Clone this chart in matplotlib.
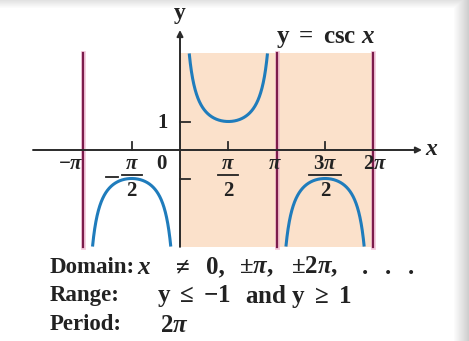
import numpy as np
import matplotlib.pyplot as plt
from matplotlib.patches import Rectangle

plt.rcParams['font.family'] = ['Liberation Serif', 'DejaVu Serif']
plt.rcParams['font.weight'] = 'bold'
plt.rcParams['mathtext.fontset'] = 'custom'
plt.rcParams['mathtext.rm'] = 'Liberation Serif:bold'
plt.rcParams['mathtext.it'] = 'Liberation Serif:italic:bold'
plt.rcParams['mathtext.bf'] = 'Liberation Serif:bold'

PI = np.pi

# branches of y = csc x between asymptotes
branches = [(-PI, 0.0), (0.0, PI), (PI, 2 * PI)]
asymptotes = [-PI, PI, 2 * PI]
ymax = 3.4

# tick marks
xticks_up = [-PI / 2, PI / 2, 3 * PI / 2]
yticks = [1, -1]

# x tick labels
xlabels_plain = [(-PI, r'$-\pi$', -12), (PI, r'$\pi$', -2), (2 * PI, r'$2\pi$', 2)]
xlabels_frac = [(-PI / 2, r'$\pi$', True), (PI / 2, r'$\pi$', False), (3 * PI / 2, r'$3\pi$', False)]

info_heads = ['Domain:', 'Range:', 'Period:']
# each body line as (text, left pixel)
domain_parts = [(r'$x$', 137), (r'$\neq$', 172), ('0,', 206), (r'$\pm\pi$,', 239),
                (r'$\pm2\pi$,', 291), ('.', 362), ('.', 385), ('.', 408)]
range_parts = [(r'y $\leq$ $-$1', 157), (r'and y $\geq$ 1', 245)]
period_parts = [(r'$2\pi$', 160)]
info_parts = [domain_parts, range_parts, period_parts]

fig = plt.figure(figsize=(4.69, 3.41), dpi=100)
ax = fig.add_axes([0, 0, 1, 1])
# pixel layout: origin at (180, 150), 96.7 px per pi, 28.5 px per unit
sx = 96.7 / PI
sy = 28.5
ax.set_xlim(-180 / sx, (469 - 180) / sx)
ax.set_ylim((150 - 341) / sy, 150 / sy)
ax.axis('off')


def px(x, y):
    return (x - 180) / sx, (150 - y) / sy


# soft shadow along the top and right edges
H, W = 341, 469
shade = np.zeros((H, W, 4))
yy, xx = np.mgrid[0:H, 0:W]
a_top = np.clip(1 - yy / 8.0, 0, 1) * 0.25
a_right = np.clip((xx - (W - 16)) / 16.0, 0, 1) * 0.45
shade[..., :3] = 0.55
shade[..., 3] = np.maximum(a_top, a_right)
fig.figimage(shade, 0, 0, zorder=0)

ax.add_patch(Rectangle((0, -ymax), 2 * PI, 2 * ymax, color='#fbe1cb', lw=0, zorder=1))

for a in asymptotes:
    ax.plot([a, a], [-ymax, ymax], color='#f0b8d0', lw=3.5, alpha=0.7, zorder=2)
    ax.plot([a, a], [-ymax, ymax], color='#7d1c4c', lw=1.6, zorder=3)

for lo, hi in branches:
    x = np.linspace(lo + 1e-3, hi - 1e-3, 800)
    y = 1 / np.sin(x)
    y[np.abs(y) > ymax] = np.nan
    ax.plot(x, y, color='#1f7cbc', lw=2.2, zorder=4, solid_capstyle='butt')

# axes with arrows
arrow = dict(arrowstyle='-|>', color='#2a2a2a', lw=1.4, mutation_scale=9, shrinkA=0, shrinkB=0)
ax.annotate('', xy=px(422, 150), xytext=px(33, 150), arrowprops=arrow, zorder=5)
ax.annotate('', xy=px(180, 30), xytext=(0, -ymax), arrowprops=arrow, zorder=5)
ax.text(*px(432, 149), r'$x$', fontsize=17, ha='center', va='center', color='#222')
ax.text(*px(180, 14), 'y', fontsize=17, ha='center', va='center', color='#222')

for t in xticks_up:
    ax.plot([t, t], [0, 8 / sy], color='#2a2a2a', lw=1.3, zorder=5)
for t in yticks:
    ax.plot([0, 10 / sx], [t, t], color='#2a2a2a', lw=1.3, zorder=5)

lab = dict(fontsize=15, color='#222', zorder=6)
ax.text(*px(163, 123), '1', ha='center', va='center', **lab)
ax.text(*px(161, 164), '0', ha='center', va='center', **lab)
for pos, s, dx in xlabels_plain:
    ax.text(pos + dx / sx, -14 / sy, s, ha='center', va='center', **lab)
for pos, s, neg in xlabels_frac:
    ax.text(pos, -14 / sy, s, ha='center', va='center', **lab)
    w = 16 if s == r'$3\pi$' else 10
    ax.plot([pos - w / sx, pos + w / sx], [-25 / sy, -25 / sy], color='#222', lw=1.3, zorder=6)
    ax.text(pos, -41 / sy, '2', ha='center', va='center', **lab)
    if neg:
        ax.plot([pos - 26 / sx, pos - 14 / sx], [-27 / sy, -27 / sy], color='#222', lw=1.3, zorder=6)

ax.text(*px(326, 38), r'y $=$ csc $x$', fontsize=18, ha='center', va='center', color='#222')

for i, head in enumerate(info_heads):
    ypx = 267 + 29 * i
    ax.text(*px(50, ypx), head, fontsize=16.5, ha='left', va='center', color='#222')
    for s, xl in info_parts[i]:
        ax.text(*px(xl, ypx), s, fontsize=18, ha='left', va='center', color='#222')

fig.savefig('out.png', dpi=100)
